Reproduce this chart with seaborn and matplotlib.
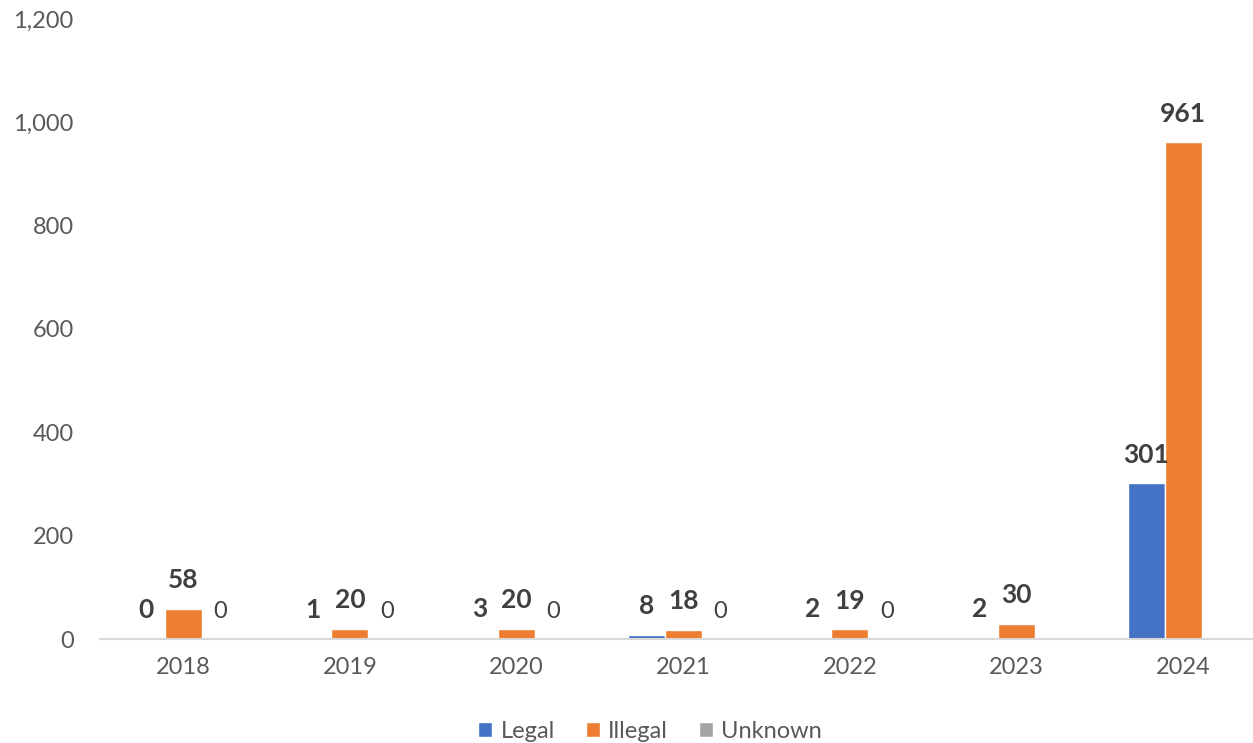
import pandas as pd
import numpy as np
import matplotlib
matplotlib.use("Agg")
import matplotlib.pyplot as plt
import seaborn as sns

years = ["2018", "2019", "2020", "2021", "2022", "2023", "2024"]
legal = [0, 1, 3, 8, 2, 2, 301]
illegal = [58, 20, 20, 18, 19, 30, 961]
unknown = [0, 0, 0, 0, 0, np.nan, np.nan]
series = ["Legal", "Illegal", "Unknown"]
colors = ["#4472C4", "#ED7D31", "#A5A5A5"]

df = pd.DataFrame({
    "Year": years * 3,
    "Type": ["Legal"] * 7 + ["Illegal"] * 7 + ["Unknown"] * 7,
    "Count": legal + illegal + unknown,
})

sns.set_style("white")
plt.rcParams["font.family"] = ["Lato", "DejaVu Sans"]

fig = plt.figure(figsize=(12.53, 7.43), dpi=100)
ax = fig.add_axes([100 / 1253, 104 / 743, 1153 / 1253, 620 / 743])

sns.barplot(data=df, x="Year", y="Count", hue="Type", hue_order=series,
            palette=colors, width=0.666, ax=ax, legend=True,
            saturation=1, errorbar=None)

ax.set_xlim(-0.5, 6.42)
ax.set_ylim(0, 1200)
ax.set_yticks(range(0, 1201, 200))
ax.set_yticklabels([f"{v:,}" for v in range(0, 1201, 200)])
ax.set_xlabel("")
ax.set_ylabel("")
ax.tick_params(axis="both", labelsize=17, colors="#595959", length=0)
ax.tick_params(axis="y", pad=19)
ax.tick_params(axis="x", pad=13)
for s in ["top", "right", "left"]:
    ax.spines[s].set_visible(False)
ax.spines["bottom"].set_color("#D9D9D9")
ax.spines["bottom"].set_linewidth(1.5)

# data labels
for cont, name in zip(ax.containers, series):
    vals = [int(b.get_height()) for b in cont]
    if name == "Unknown":
        ax.bar_label(cont, labels=[str(v) for v in vals], padding=12,
                     fontsize=17, color="#404040")
    else:
        ax.bar_label(cont, labels=[str(v) for v in vals], padding=12,
                     fontsize=19, fontweight="bold", color="#404040")

handles, labels = ax.get_legend_handles_labels()
ax.legend(handles, labels, loc="center", bbox_to_anchor=(650 / 1253, 12 / 743),
          bbox_transform=fig.transFigure, ncol=3, frameon=False, fontsize=17,
          handlelength=0.6, handleheight=0.6, handletextpad=0.35,
          columnspacing=1.3, labelcolor="#595959")

fig.savefig("out.png", dpi=100)
